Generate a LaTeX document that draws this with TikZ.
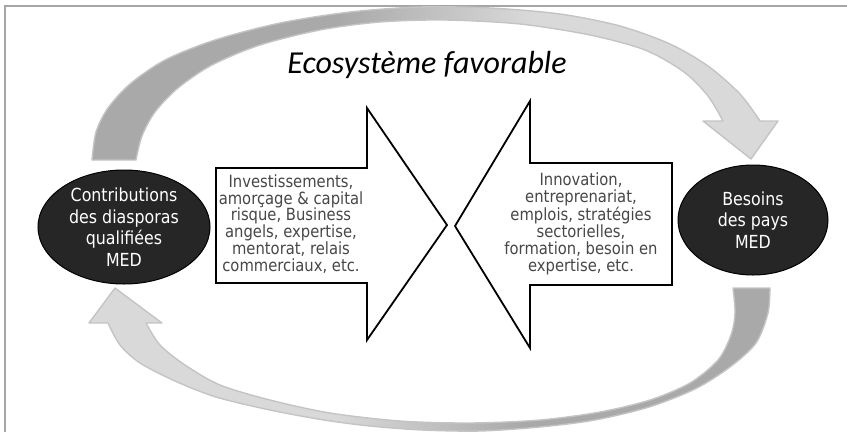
\documentclass[tikz,border=0pt]{standalone}
\usepackage{fontspec}
\usetikzlibrary{shapes.geometric}
\newfontfamily\bodyfont{DejaVu Sans}[FakeStretch=0.88]
\newfontfamily\titlefont{Carlito}

\definecolor{frameGray}{HTML}{A6A6A6}
\definecolor{bandDark}{HTML}{A9A9A9}
\definecolor{bandLight}{HTML}{D9D9D9}
\definecolor{bandEdge}{HTML}{C4C4C4}
\definecolor{ellFill}{HTML}{262626}
\definecolor{boxText}{HTML}{474747}

% horizontal gradients for the two curved arrows (dark at the tail, light at the head)
\pgfdeclarehorizontalshading{bandLtoR}{100bp}{color(0bp)=(bandDark); color(43bp)=(bandDark); color(57bp)=(bandLight); color(100bp)=(bandLight)}
\pgfdeclarehorizontalshading{bandRtoL}{100bp}{color(0bp)=(bandLight); color(43bp)=(bandLight); color(57bp)=(bandDark); color(100bp)=(bandDark)}

\tikzset{
  band/.style={draw=bandEdge, line width=1.4pt, line join=round},
  blockarrow/.style={draw=black, fill=white, line width=1.8pt, line join=miter},
  ellnode/.style={ellipse, draw=black, line width=1pt, fill=ellFill, text=white, inner sep=0pt,
    align=center, font=\bodyfont\fontsize{18}{21.6}\selectfont},
  boxtext/.style={align=center, text=boxText, inner sep=0pt,
    font=\bodyfont\fontsize{16.8}{16.9}\selectfont},
}

\begin{document}
\begin{tikzpicture}[x=1pt,y=-1pt]
\useasboundingbox (0,0) rectangle (847,432);

% frame (top and left edges)
\draw[frameGray, line width=2pt] (5,432) -- (5,6) -- (847,6);

% upper curved arrow
\path[band, shading=bandLtoR]
  plot[smooth] coordinates {(92,160) (96,132) (108,108) (130,84) (165,60) (215,40) (280,23) (350,12) (420,7) (490,8) (560,14) (620,26) (670,44) (708,66) (740,94) (760,121)}
  -- (778,121) -- (751,159) -- (703,121) -- (723,121)
  -- plot[smooth] coordinates {(723,121) (708,96) (684,72) (645,50) (590,35) (520,24) (445,20) (380,22) (320,30) (260,45) (212,65) (178,88) (155,112) (142,136) (136,160)}
  -- cycle;

% lower curved arrow
\path[band, shading=bandRtoL]
  plot[smooth] coordinates {(770,288) (768,313) (756,343) (730,367) (695,389) (649,407) (595,420) (540,427) (480,431) (422,430) (370,426) (324,420) (270,410) (216,397) (175,381) (140,363) (120,345) (108,323)}
  -- (89,323) -- (115,288) -- (162,323) -- (146,323)
  -- plot[smooth] coordinates {(146,323) (160,345) (185,365) (220,385) (270,400) (330,413) (400,421) (470,423) (540,420) (600,412) (650,400) (690,383) (718,360) (731,335) (735,313) (733,288)}
  -- cycle;

% title
\node[font=\titlefont\itshape\fontsize{32}{38}\selectfont, inner sep=0pt] (title) at (427,65) {Ecosystème favorable};

% right-pointing block arrow
\draw[blockarrow] (216,168) -- (367,168) -- (367,108) -- (447,225) -- (367,340) -- (367,283) -- (216,283) -- cycle;
\node[boxtext] (offre) at (291,224) {Investissements,\\amorçage \& capital\\risque, Business\\angels, expertise,\\mentorat, relais\\commerciaux, etc.};

% left-pointing block arrow
\draw[blockarrow] (672,163) -- (530,163) -- (530,101) -- (455,226) -- (530,348) -- (530,285) -- (672,285) -- cycle;
\node[boxtext] (demande) at (581,224) {Innovation,\\entreprenariat,\\emplois, stratégies\\sectorielles,\\formation, besoin en\\expertise, etc.};

% the two actors
\node[ellnode, minimum width=172pt, minimum height=114pt] (contrib) at (124,227) {Contributions\\des diasporas\\qualifiées\\MED};
\node[ellnode, minimum width=150pt, minimum height=110pt] (besoins) at (753,220) {Besoins\\des pays\\MED};
\end{tikzpicture}
\end{document}
